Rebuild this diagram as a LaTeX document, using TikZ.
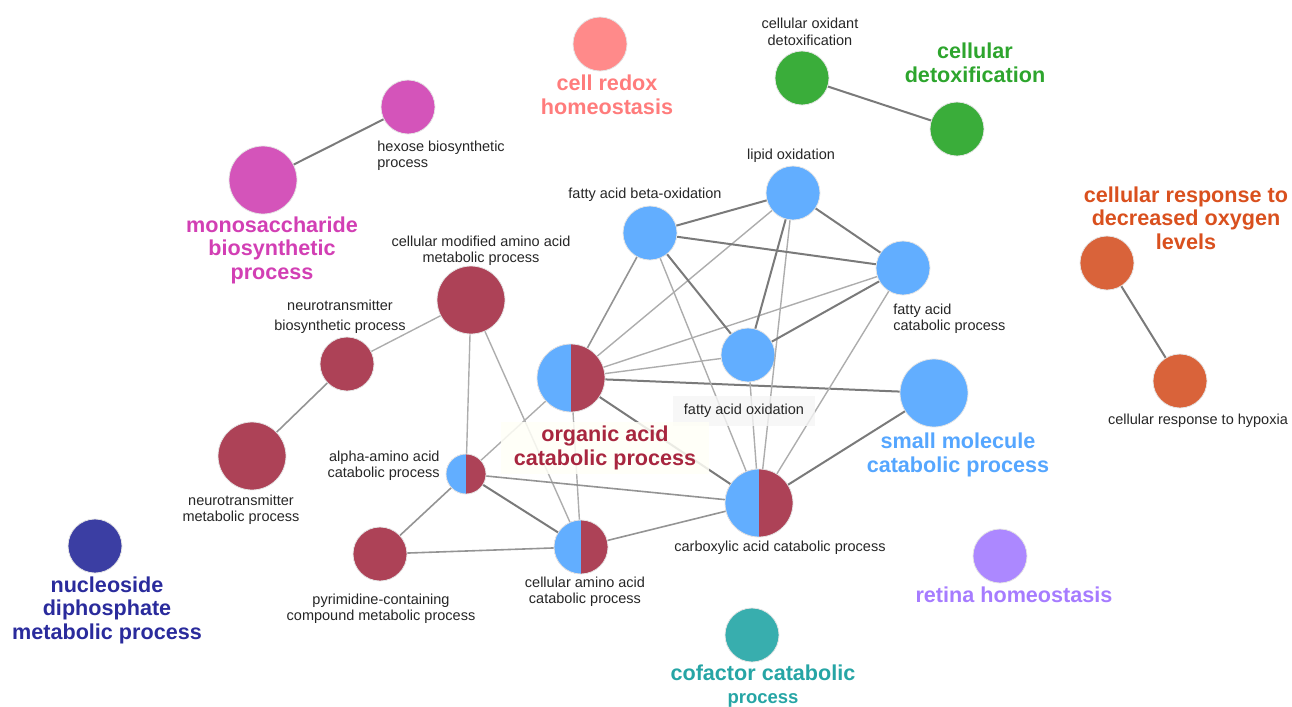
\documentclass[tikz,border=0pt]{standalone}
\usepackage{fontspec}
\setmainfont{Liberation Sans}
\usepackage{xcolor}

\definecolor{cblue}{HTML}{62AEFF}
\definecolor{cred}{HTML}{AD4257}
\definecolor{cmag}{HTML}{D454BA}
\definecolor{cgreen}{HTML}{3AAD3A}
\definecolor{csalmon}{HTML}{FF8A8A}
\definecolor{corange}{HTML}{D9633A}
\definecolor{cnavy}{HTML}{3B3EA3}
\definecolor{cpurple}{HTML}{AC88FF}
\definecolor{cteal}{HTML}{38AEAE}
\definecolor{tsalmon}{HTML}{FF7C7C}
\definecolor{tgreen}{HTML}{2DA52D}
\definecolor{tmag}{HTML}{D23FB4}
\definecolor{torange}{HTML}{D9501E}
\definecolor{tnavy}{HTML}{2A2B9C}
\definecolor{tred}{HTML}{A8263F}
\definecolor{tblue}{HTML}{55A6FF}
\definecolor{tpurple}{HTML}{A67CFF}
\definecolor{tteal}{HTML}{26A5A5}

\begin{document}
\begin{tikzpicture}[x=0.5pt, y=-0.5pt]

\tikzstyle{term} = [circle, inner sep=0pt, minimum size=27pt, draw=white!80!gray, line width=0.4pt]
\tikzstyle{big} = [minimum size=34pt]
\tikzstyle{halfterm} = [term, fill=cred, path picture={\fill[cblue] (path picture bounding box.south west) rectangle (path picture bounding box.north);}]
\tikzstyle{lbl} = [font=\fontsize{7.25}{8.2}\selectfont, text=black!85, align=center, inner sep=1pt]
\tikzstyle{head} = [font=\fontsize{10.8}{11.75}\selectfont\bfseries, align=center, inner sep=1pt]
\tikzstyle{strong} = [draw=black!52, line width=1pt]
\tikzstyle{mid} = [draw=black!42, line width=0.8pt]
\tikzstyle{weak} = [draw=black!32, line width=0.7pt]

\useasboundingbox (0,0) rectangle (1292,707);

% terms
\node (redox) [term, fill=csalmon] at (600,44) {};
\node (oxid) [term, fill=cgreen] at (802,78) {};
\node (detox) [term, fill=cgreen] at (957,129) {};
\node (hexose) [term, fill=cmag] at (408,107) {};
\node (mono) [term, big, fill=cmag] at (263,180) {};
\node (cmod) [term, big, fill=cred] at (471,300) {};
\node (nbio) [term, fill=cred] at (347,364) {};
\node (nmet) [term, big, fill=cred] at (252,456) {};
\node (nucl) [term, fill=cnavy] at (95,546) {};
\node (alpha) [halfterm, minimum size=20pt] at (466,474) {};
\node (organic) [halfterm, big] at (571,378) {};
\node (pyr) [term, fill=cred] at (380,554) {};
\node (camino) [halfterm] at (581,547) {};
\node (carbox) [halfterm, big] at (759,503) {};
\node (fao) [term, fill=cblue] at (748,355) {};
\node (beta) [term, fill=cblue] at (650,233) {};
\node (lipid) [term, fill=cblue] at (793,193) {};
\node (fcat) [term, fill=cblue] at (903,268) {};
\node (small) [term, big, fill=cblue] at (934,393) {};
\node (oxy) [term, fill=corange] at (1107,263) {};
\node (hypox) [term, fill=corange] at (1180,381) {};
\node (retina) [term, fill=cpurple] at (1000,556) {};
\node (cofac) [term, fill=cteal] at (752,635) {};

% links
\draw [strong] (hexose) -- (mono);
\draw [strong] (oxid) -- (detox);
\draw [strong] (oxy) -- (hypox);
\draw [weak] (cmod) -- (nbio);
\draw [mid] (nbio) -- (nmet);
\draw [weak] (cmod) -- (alpha);
\draw [weak] (cmod) -- (camino);
\draw [weak] (organic) -- (alpha);
\draw [weak] (organic) -- (camino);
\draw [strong] (organic) -- (carbox);
\draw [mid] (organic) -- (beta);
\draw [weak] (organic) -- (lipid);
\draw [weak] (organic) -- (fcat);
\draw [weak] (organic) -- (fao);
\draw [strong] (organic) -- (small);
\draw [mid] (alpha) -- (carbox);
\draw [strong] (alpha) -- (camino);
\draw [mid] (alpha) -- (pyr);
\draw [mid] (pyr) -- (camino);
\draw [mid] (camino) -- (carbox);
\draw [strong] (carbox) -- (small);
\draw [weak] (carbox) -- (fao);
\draw [weak] (carbox) -- (lipid);
\draw [weak] (carbox) -- (beta);
\draw [weak] (carbox) -- (fcat);
\draw [strong] (beta) -- (lipid);
\draw [strong] (beta) -- (fcat);
\draw [strong] (beta) -- (fao);
\draw [strong] (lipid) -- (fcat);
\draw [strong] (lipid) -- (fao);
\draw [strong] (fcat) -- (fao);

% labels
\node (redoxL) [head, text=tsalmon] at (607,95) {cell redox\\homeostasis};
\node (oxidL) [lbl] at (810,32) {cellular oxidant\\detoxification};
\node (detoxL) [head, text=tgreen] at (975,63) {cellular\\detoxification};
\node (hexoseL) [lbl, align=left, anchor=west] at (375,156) {hexose biosynthetic\\process};
\node (monoL) [head, text=tmag] at (272,250) {monosaccharide\\biosynthetic\\process};
\node (cmodL) [lbl] at (481,251) {cellular modified amino acid\\metabolic process};
\node (nbioL) [lbl] at (340,317) {neurotransmitter\\[1.8pt]biosynthetic process};
\node (nmetL) [lbl] at (241,510) {neurotransmitter\\metabolic process};
\node (nuclL) [head, text=tnavy] at (107,610) {nucleoside\\diphosphate\\metabolic process};
\node (alphaL) [lbl, align=right, anchor=east] at (442,466) {alpha-amino acid\\catabolic process};
\node (pyrL) [lbl] at (381,609) {pyrimidine-containing\\compound metabolic process};
\node (caminoL) [lbl] at (585,592) {cellular amino acid\\catabolic process};
\node (carboxL) [lbl] at (780,548) {carboxylic acid catabolic process};
\node (faoL) [lbl, fill=black!4, fill opacity=0.8, text opacity=1, inner xsep=5.5pt, inner ysep=4pt] at (744,411) {fatty acid oxidation};
\node (betaL) [lbl] at (645,195) {fatty acid beta-oxidation};
\node (lipidL) [lbl] at (791,156) {lipid oxidation};
\node (fcatL) [lbl, align=left, anchor=west] at (891,319) {fatty acid\\catabolic process};
\node (organicL) [head, text=tred, fill=yellow!3, fill opacity=0.85, text opacity=1, inner xsep=6.5pt, inner ysep=2pt] at (605,448) {organic acid\\catabolic process};
\node (smallL) [head, text=tblue] at (958,455) {small molecule\\catabolic process};
\node (oxyL) [head, text=torange] at (1186,218) {cellular response to\\decreased oxygen\\levels};
\node (hypoxL) [lbl] at (1198,421) {cellular response to hypoxia};
\node (retinaL) [head, text=tpurple] at (1014,595) {retina homeostasis};
\node (cofacL) [head, text=tteal] at (763,686) {cofactor catabolic\\{\fontsize{9.25}{10}\selectfont process}};

\end{tikzpicture}
\end{document}
